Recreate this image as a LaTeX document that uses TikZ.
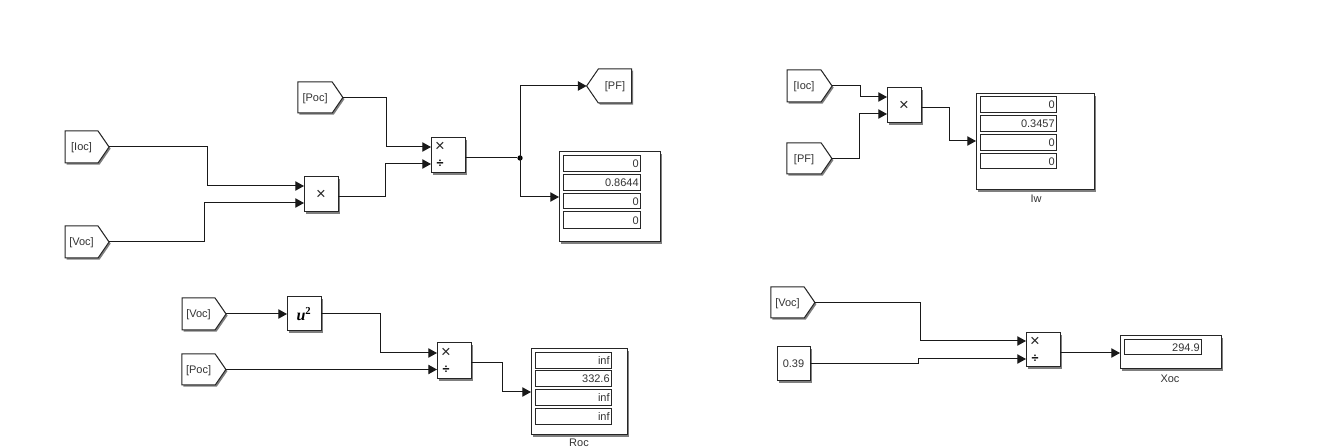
\documentclass[tikz,border=0pt]{standalone}
\usepackage{fontspec}
\setmainfont{Liberation Sans}
\newfontfamily\srf{Liberation Serif}
\usetikzlibrary{arrows.meta,shapes.symbols,shadows}
\tikzset{
  wire/.style={draw=black!90,line width=0.75pt,-{Triangle[length=6.5pt,width=7pt]}},
  plainwire/.style={draw=black!90,line width=0.75pt},
  shadowed/.style={drop shadow={shadow xshift=1.2pt,shadow yshift=-1.2pt,opacity=.5,fill=black}},
  base/.style={draw=black!85,fill=white,line width=0.75pt,inner sep=0pt,outer sep=0pt,font=\fontsize{8.25pt}{10pt}\selectfont,text=black!80},
  block/.style={rectangle,base,shadowed},
  field/.style={rectangle,base,align=right,text height=6pt,text depth=0.3pt},
  gotoR/.style={signal,signal to=east,signal pointer angle=111,base,shadowed,xshift=-4.1pt,text height=6pt,text depth=0.2pt},
  gotoL/.style={signal,signal to=west,signal pointer angle=111,base,shadowed,xshift=4.1pt,text height=6pt,text depth=0.2pt},
  txt/.style={inner sep=0pt,font=\fontsize{8.25pt}{10pt}\selectfont,text=black!80},
  mulsign/.style={inner sep=0pt,font=\fontsize{12.5pt}{13pt}\selectfont,text=black!85},
  divsign/.style={inner sep=0pt,font=\fontsize{9.5pt}{12pt}\selectfont\bfseries,text=black},
  junct/.style={circle,fill=black,inner sep=0pt,minimum size=4pt},
}
% name x1 y1 x2 y2 style text
\newcommand\bx[7]{%
  \pgfmathsetmacro\cxa{(#2+#4)/2}\pgfmathsetmacro\cya{(#3+#5)/2}%
  \pgfmathsetmacro\wa{(#4-#2)*0.75}\pgfmathsetmacro\ha{(#5-#3)*0.75}%
  \node[#6,minimum width=\wa pt,minimum height=\ha pt] (#1) at (\cxa,\cya) {#7};}
% name x1 y1 x2 y2 text : right aligned display field
\newcommand\fld[6]{%
  \pgfmathsetmacro\cxa{(#2+#4)/2}\pgfmathsetmacro\cya{(#3+#5)/2}%
  \pgfmathsetmacro\wa{(#4-#2)*0.75}\pgfmathsetmacro\ha{(#5-#3)*0.75}%
  \node[field,minimum height=\ha pt,text width=\wa pt-2pt,inner xsep=1pt] (#1) at (\cxa,\cya) {#6};}
\begin{document}
\begin{tikzpicture}[x=0.75pt,y=-0.75pt]
\useasboundingbox (0,0) rectangle (1332,448);
% ---- top left
\bx{ioca}{65}{131}{109}{163}{gotoR}{[Ioc]}
\bx{voca}{65}{226}{109}{258}{gotoR}{[Voc]}
\bx{poca}{298}{82}{343}{113}{gotoR}{[Poc]}
\bx{pfa}{587}{69}{632}{103}{gotoL}{[PF]}
\bx{proda}{304}{177}{338}{212}{block}{}
\node[mulsign] (proda-s) at (proda.center) {×};
\bx{diva}{431}{138}{465}{173}{block}{}
\node[mulsign] (diva-m) at (440,147) {×};
\node[divsign] (diva-d) at (440,164) {÷};
\bx{dispa}{559}{152}{660}{242}{block}{}
\fld{fa1}{563}{156}{640}{172}{0}
\fld{fa2}{563}{175}{640}{191}{0.8644}
\fld{fa3}{563}{194}{640}{209}{0}
\fld{fa4}{563}{212}{640}{229}{0}
\coordinate (pa1) at (304,186);
\coordinate (pa2) at (304,203);
\coordinate (paout) at (338,197);
\coordinate (da1) at (431,147);
\coordinate (da2) at (431,164);
\coordinate (daout) at (465,158);
\coordinate (dsa) at (559,197);
\node[junct] (ja) at (520,158) {};
\draw[wire] (ioca.east) -- ++(98,0) |- (pa1);
\draw[wire] (voca.east) -- ++(95,0) |- (pa2);
\draw[wire] (poca.east) -- ++(44,0) |- (da1);
\draw[wire] (paout) -- ++(47,0) |- (da2);
\draw[plainwire] (daout) -- (ja);
\draw[wire] (ja.center) |- (pfa.west);
\draw[wire] (ja.center) |- (dsa);
% ---- bottom left
\bx{vocb}{182}{298}{226}{330}{gotoR}{[Voc]}
\bx{pocb}{182}{354}{226}{385}{gotoR}{[Poc]}
\bx{sq}{287}{297}{321}{331}{block}{{\srf\fontsize{12pt}{12pt}\selectfont\bfseries\itshape\color{black} u\textsuperscript{\upshape 2}}}
\bx{divb}{437}{343}{471}{379}{block}{}
\node[mulsign] (divb-m) at (446,353) {×};
\node[divsign] (divb-d) at (446,369.5) {÷};
\bx{dispb}{531}{349}{627}{435}{block}{}
\fld{fb1}{535}{353}{611}{369}{inf}
\fld{fb2}{535}{371}{611}{387}{332.6}
\fld{fb3}{535}{390}{611}{406}{inf}
\fld{fb4}{535}{409}{611}{425}{inf}
\node[txt] (roc) at (579,443) {Roc};
\coordinate (db1) at (437,353);
\coordinate (db2) at (437,369.5);
\coordinate (dbout) at (471,363);
\coordinate (dsb) at (531,392);
\draw[wire] (vocb.east) -- (sq.west);
\draw[wire] (sq.east) -- ++(59,0) |- (db1);
\draw[wire] (pocb.east) -- (db2);
\draw[wire] (dbout) -- ++(31,0) |- (dsb);
% ---- top right
\bx{iocc}{787}{70}{832}{102}{gotoR}{[Ioc]}
\bx{pfc}{787}{143}{832}{174}{gotoR}{[PF]}
\bx{prodc}{887}{88}{921}{123}{block}{}
\node[mulsign] (prodc-s) at (prodc.center) {×};
\bx{dispc}{976}{94}{1094}{190}{block}{}
\fld{fc1}{980}{97}{1056}{113}{0}
\fld{fc2}{980}{116}{1056}{132}{0.3457}
\fld{fc3}{980}{135}{1056}{151}{0}
\fld{fc4}{980}{154}{1056}{169}{0}
\node[txt] (iw) at (1036,199) {Iw};
\coordinate (pc1) at (887,97);
\coordinate (pc2) at (887,114);
\coordinate (pcout) at (921,108);
\coordinate (dsc) at (976,141);
\draw[wire] (iocc.east) -- ++(28,0) |- (pc1);
\draw[wire] (pfc.east) -- ++(28,0) |- (pc2);
\draw[wire] (pcout) -- ++(28,0) |- (dsc);
% ---- bottom right
\bx{vocd}{771}{287}{815}{318}{gotoR}{[Voc]}
\bx{cst}{777}{347}{810}{381}{block}{0.39}
\bx{divd}{1026}{333}{1060}{367}{block}{}
\node[mulsign] (divd-m) at (1035,341.5) {×};
\node[divsign] (divd-d) at (1035,359) {÷};
\bx{dispd}{1120}{336}{1221}{369}{block}{}
\fld{fd1}{1124}{340}{1201}{355}{294.9}
\node[txt] (xoc) at (1170,379) {Xoc};
\coordinate (dd1) at (1026,341);
\coordinate (dd2) at (1026,359);
\coordinate (ddout) at (1060,353);
\coordinate (dsd) at (1120,353);
\draw[wire] (vocd.east) -- ++(106,0) |- (dd1);
\draw[wire] (cst.east) -- ++(108,0) |- (dd2);
\draw[wire] (ddout) -- (dsd);
\end{tikzpicture}
\end{document}
